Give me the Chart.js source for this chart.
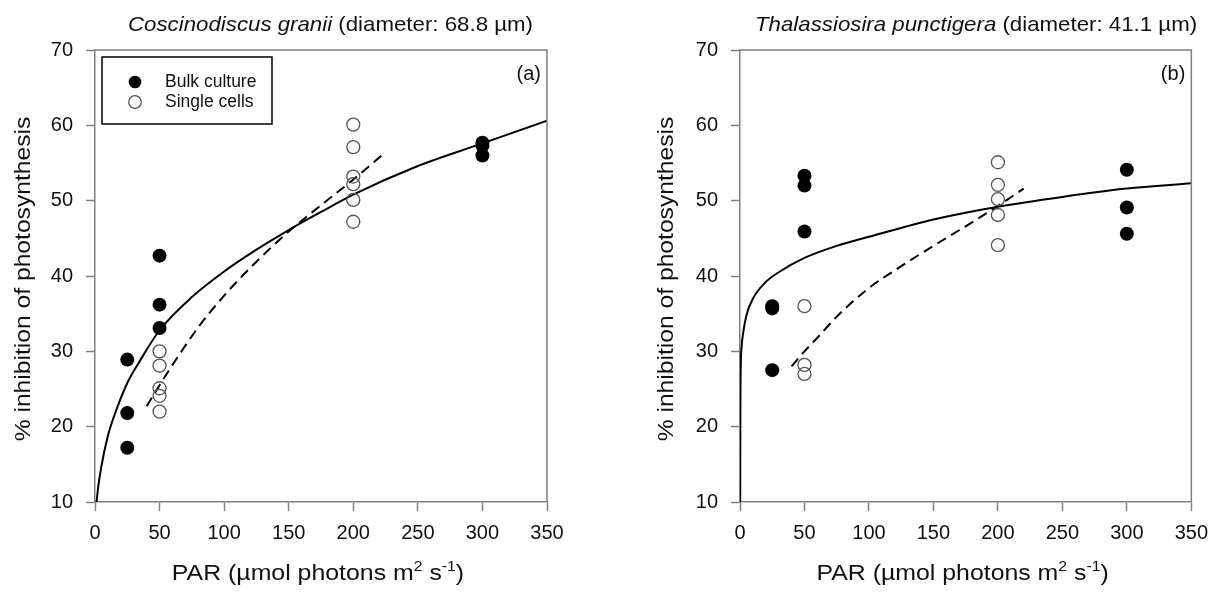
<!DOCTYPE html>
<html>
<head>
<meta charset="utf-8">
<script src="https://cdn.jsdelivr.net/npm/chart.js@4.4.1/dist/chart.umd.min.js"></script>
<style>
  body { margin: 0; background: #fff; }
  #wrap { position: relative; width: 1218px; height: 594px; }
  canvas { position: absolute; top: 0; }
</style>
</head>
<body>
<div id="wrap">
  <canvas id="chartA" width="609" height="594" style="left:0"></canvas>
  <canvas id="chartB" width="609" height="594" style="left:609px"></canvas>
</div>
<script>
// panel (a): Coscinodiscus granii
const bulkA_x   = [25, 25, 25, 50, 50, 50, 300, 300, 300];
const bulkA_y   = [28.9, 21.8, 17.2, 42.7, 36.2, 33.1, 57.7, 57.3, 56.0];
const singleA_x = [50, 50, 50, 50, 50, 200, 200, 200, 200, 200, 200];
const singleA_y = [30.0, 28.1, 25.1, 24.1, 22.0, 60.1, 57.1, 53.2, 52.2, 50.1, 47.2];
const fitBulkA_x   = [1.2, 2.5, 5, 10, 15, 25, 35, 50, 75, 100, 125, 150, 175, 200, 250, 300, 350];
const fitBulkA_y   = [10, 12, 14.8, 18.8, 21.5, 25.8, 28.8, 32.8, 37.2, 40.6, 43.5, 46.1, 48.5, 50.8, 54.6, 57.6, 60.6];
const fitSingleA_x = [40, 50, 60, 80, 100, 125, 150, 175, 200, 222];
const fitSingleA_y = [22.7, 25.5, 28.2, 33.2, 37.4, 41.9, 45.9, 49.4, 52.8, 56.0];

// panel (b): Thalassiosira punctigera
const bulkB_x   = [25, 25, 25, 50, 50, 50, 300, 300, 300];
const bulkB_y   = [36.0, 35.7, 27.5, 53.3, 52.0, 45.9, 54.1, 49.1, 45.6];
const singleB_x = [50, 50, 50, 200, 200, 200, 200, 200];
const singleB_y = [36.0, 28.2, 27.0, 55.1, 52.1, 50.2, 48.1, 44.1];
const fitBulkB_x   = [0.15, 0.3, 0.6, 1.2, 2.6, 5, 10, 20, 30, 50, 75, 100, 150, 200, 250, 300, 350];
const fitBulkB_y   = [10, 22, 28, 30.5, 32.6, 34.8, 37.0, 39.2, 40.5, 42.4, 44.0, 45.2, 47.5, 49.2, 50.5, 51.6, 52.3];
const fitSingleB_x = [40, 50, 60, 75, 100, 125, 150, 175, 200, 220];
const fitSingleB_y = [28.0, 30.0, 31.8, 34.6, 38.4, 41.3, 44.0, 46.6, 49.3, 51.6];

const seriesLabels = ['Bulk culture', 'Single cells'];

const FONT = '"Liberation Sans", Arial, Helvetica, sans-serif';
const AXIS = '#808080';
const INK = '#111';

const pts = (xs, ys) => xs.map((x, i) => ({ x, y: ys[i] }));

// draws a run of text pieces, each with its own style, from an anchor point
// (stretch widens the glyphs a little, the source figure is wider than tall)
function drawRuns (ctx, runs, x, y, align, stretch = 1) {
	const widths = runs.map(r => {
		ctx.font = `${r.style || 'normal'} ${r.size}px ${FONT}`;
		return ctx.measureText(r.text).width;
	});
	const total = widths.reduce((a, b) => a + b, 0);
	ctx.save();
	ctx.translate(x, y);
	ctx.scale(stretch, 1);
	let cx = align === 'center' ? -total / 2 : 0;
	runs.forEach((r, i) => {
		ctx.font = `${r.style || 'normal'} ${r.size}px ${FONT}`;
		ctx.fillText(r.text, cx, -(r.rise || 0));
		cx += widths[i];
	});
	ctx.restore();
}

const decorations = {
	id: 'decorations',
	afterDraw (chart, args, o) {
		const { ctx, chartArea: a } = chart;
		ctx.save();

		// top and right frame
		ctx.strokeStyle = AXIS;
		ctx.lineWidth = 1.5;
		ctx.beginPath();
		ctx.moveTo(a.left, a.top);
		ctx.lineTo(a.right, a.top);
		ctx.lineTo(a.right, a.bottom);
		ctx.stroke();

		ctx.fillStyle = INK;
		ctx.textBaseline = 'alphabetic';
		ctx.textAlign = 'left';

		// title
		drawRuns(ctx, [
			{ text: o.species, style: 'italic', size: 21 },
			{ text: ` (diameter: ${o.diameter} µm)`, size: 21 }
		], o.titleX, 31, 'left', 1.06);

		// x axis title
		drawRuns(ctx, [
			{ text: 'PAR (µmol photons m', size: 22 },
			{ text: '2', size: 14, rise: 9 },
			{ text: ' s', size: 22 },
			{ text: '-1', size: 14, rise: 9 },
			{ text: ')', size: 22 }
		], (a.left + a.right) / 2 - 3, 580, 'center', 1.13);

		// y axis title
		ctx.save();
		ctx.translate(o.yTitleX, (a.top + a.bottom) / 2 + 3);
		ctx.rotate(-Math.PI / 2);
		ctx.scale(1.12, 1);
		ctx.textAlign = 'center';
		ctx.textBaseline = 'middle';
		ctx.font = `22px ${FONT}`;
		ctx.fillText('% inhibition of photosynthesis', 0, 0);
		ctx.restore();

		// panel letter
		ctx.textAlign = 'right';
		ctx.font = `20px ${FONT}`;
		ctx.fillText(o.letter, a.right - 6, 80);

		// legend box
		if (o.legend) {
			const ds = chart.data.datasets;
			ctx.strokeStyle = '#000';
			ctx.lineWidth = 1.5;
			ctx.strokeRect(102, 57, 170, 67);
			[0, 1].forEach(i => {
				const cy = 82 + i * 20;
				ctx.beginPath();
				ctx.arc(135, cy, 6.3, 0, Math.PI * 2);
				if (i === 0) {
					ctx.fillStyle = ds[i].backgroundColor;
					ctx.fill();
				} else {
					ctx.strokeStyle = ds[i].borderColor;
					ctx.lineWidth = ds[i].borderWidth;
					ctx.stroke();
				}
				ctx.fillStyle = INK;
				ctx.textAlign = 'left';
				ctx.textBaseline = 'middle';
				ctx.font = `17.5px ${FONT}`;
				ctx.fillText(ds[i].label, 165, cy);
			});
		}
		ctx.restore();
	}
};

function chartConfig (d) {
	return {
		type: 'scatter',
		data: {
			datasets: [
				{
					label: seriesLabels[0],
					data: pts(d.bulkX, d.bulkY),
					backgroundColor: '#000',
					borderColor: '#000',
					borderWidth: 0,
					pointRadius: 7
				},
				{
					label: seriesLabels[1],
					data: pts(d.singleX, d.singleY),
					backgroundColor: 'rgba(0,0,0,0)',
					borderColor: '#555',
					borderWidth: 1.3,
					pointRadius: 6.5
				},
				{
					label: 'fit bulk',
					data: pts(d.fitBulkX, d.fitBulkY),
					showLine: true,
					borderColor: '#000',
					borderWidth: 2,
					pointRadius: 0,
					cubicInterpolationMode: 'monotone'
				},
				{
					label: 'fit single',
					data: pts(d.fitSingleX, d.fitSingleY),
					showLine: true,
					borderColor: '#000',
					borderWidth: 2,
					borderDash: [10, 6],
					pointRadius: 0,
					cubicInterpolationMode: 'monotone'
				}
			]
		},
		options: {
			responsive: false,
			animation: false,
			layout: { padding: { top: 50, right: d.rightPad, bottom: 0, left: 0 } },
			plugins: {
				legend: { display: false },
				tooltip: { enabled: false },
				decorations: d.deco
			},
			scales: {
				x: {
					type: 'linear',
					min: 0,
					max: 350,
					afterFit: scale => { scale.height = 92; },
					ticks: { stepSize: 50, padding: 10, color: INK, font: { family: FONT, size: 20 } },
					grid: { drawOnChartArea: false, tickLength: 9, tickColor: AXIS, tickWidth: 1.5 },
					border: { color: AXIS, width: 1.5 }
				},
				y: {
					type: 'linear',
					min: 10,
					max: 70,
					afterFit: scale => { scale.width = d.yWidth; },
					ticks: { stepSize: 10, padding: 13, color: INK, font: { family: FONT, size: 20 } },
					grid: { drawOnChartArea: false, tickLength: 9, tickColor: AXIS, tickWidth: 1.5 },
					border: { color: AXIS, width: 1.5 }
				}
			}
		},
		plugins: [decorations]
	};
}

new Chart(document.getElementById('chartA'), chartConfig({
	bulkX: bulkA_x, bulkY: bulkA_y,
	singleX: singleA_x, singleY: singleA_y,
	fitBulkX: fitBulkA_x, fitBulkY: fitBulkA_y,
	fitSingleX: fitSingleA_x, fitSingleY: fitSingleA_y,
	yWidth: 95, rightPad: 62,
	deco: { species: 'Coscinodiscus granii', diameter: '68.8', titleX: 128, yTitleX: 24, letter: '(a)', legend: true }
}));

new Chart(document.getElementById('chartB'), chartConfig({
	bulkX: bulkB_x, bulkY: bulkB_y,
	singleX: singleB_x, singleY: singleB_y,
	fitBulkX: fitBulkB_x, fitBulkY: fitBulkB_y,
	fitSingleX: fitSingleB_x, fitSingleY: fitSingleB_y,
	yWidth: 131, rightPad: 25,
	deco: { species: 'Thalassiosira punctigera', diameter: '41.1', titleX: 146, yTitleX: 58, letter: '(b)', legend: false }
}));
</script>
</body>
</html>
